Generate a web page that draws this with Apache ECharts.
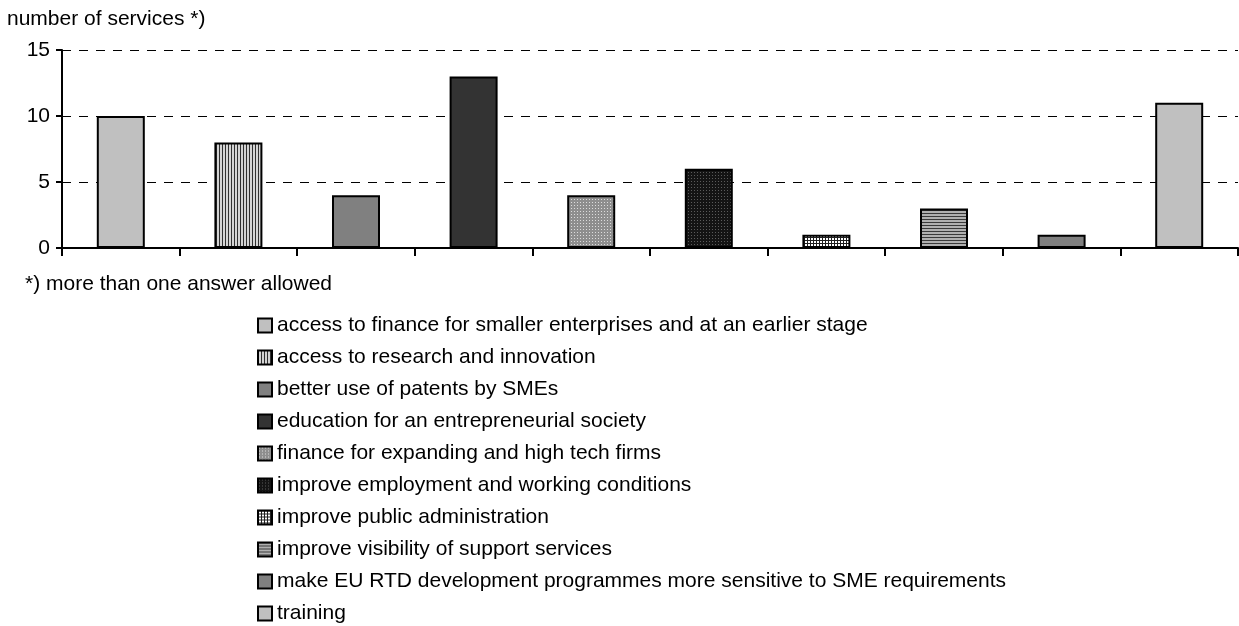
<!DOCTYPE html>
<html>
<head>
<meta charset="utf-8">
<title>number of services</title>
<script src="https://cdn.jsdelivr.net/npm/echarts@6/dist/echarts.min.js"></script>
<style>
  html, body { margin: 0; padding: 0; background: #fff; }
  #chart { width: 1239px; height: 626px; }
</style>
</head>
<body>
<div id="chart"></div>
<script>
// Service themes (one bar each) and how many services address them
const categories = [
  'access to finance for smaller enterprises and at an earlier stage',
  'access to research and innovation',
  'better use of patents by SMEs',
  'education for an entrepreneurial society',
  'finance for expanding and high tech firms',
  'improve employment and working conditions',
  'improve public administration',
  'improve visibility of support services',
  'make EU RTD development programmes more sensitive to SME requirements',
  'training'
];
const values = [10, 8, 4, 13, 4, 6, 1, 3, 1, 11];
const yTicks = [0, 5, 10, 15];

const FONT = '"Liberation Sans", Arial, Helvetica, sans-serif';

// Small repeating canvas tiles used as hatch fills
function tile(w, h, draw) {
  const c = document.createElement('canvas');
  c.width = w; c.height = h;
  const g = c.getContext('2d');
  draw(g);
  return { image: c, repeat: 'repeat' };
}

const fills = [
  '#c0c0c0',
  // vertical stripes
  tile(3, 1, g => { g.fillStyle = '#d4d4d4'; g.fillRect(0, 0, 3, 1); g.fillStyle = '#303030'; g.fillRect(0, 0, 1, 1); }),
  '#808080',
  '#333333',
  // light dots on grey
  tile(3, 3, g => { g.fillStyle = '#8e8e8e'; g.fillRect(0, 0, 3, 3); g.fillStyle = '#dcdcdc'; g.fillRect(1, 1, 1, 1); }),
  // grey dots on near-black
  tile(3, 3, g => { g.fillStyle = '#141414'; g.fillRect(0, 0, 3, 3); g.fillStyle = '#5a5a5a'; g.fillRect(1, 1, 1, 1); }),
  // fine grid
  tile(3, 3, g => { g.fillStyle = '#ffffff'; g.fillRect(0, 0, 3, 3); g.fillStyle = '#202020'; g.fillRect(0, 0, 3, 1); g.fillRect(0, 0, 1, 3); }),
  // horizontal stripes
  tile(1, 3, g => { g.fillStyle = '#b0b0b0'; g.fillRect(0, 0, 1, 3); g.fillStyle = '#3a3a3a'; g.fillRect(0, 0, 1, 1); }),
  '#808080',
  '#c0c0c0'
];

const series = categories.map((name, i) => ({
  name: name,
  type: 'bar',
  barGap: '-100%',
  barWidth: 48,
  data: values.map((v, j) => (j === i ? v : '-')),
  itemStyle: { color: fills[i], borderColor: '#000', borderWidth: 2 }
}));

const chart = echarts.init(document.getElementById('chart'));
chart.setOption({
  animation: false,
  backgroundColor: '#fff',
  textStyle: { fontFamily: FONT, color: '#000' },
  title: [
    {
      text: 'number of services *)',
      left: 7, top: 9, padding: 0,
      textStyle: { fontFamily: FONT, fontSize: 21, fontWeight: 'normal', color: '#000' }
    },
    {
      text: '*) more than one answer allowed',
      left: 25, top: 274, padding: 0,
      textStyle: { fontFamily: FONT, fontSize: 21, fontWeight: 'normal', color: '#000' }
    }
  ],
  grid: { left: 62, right: 1, top: 50, bottom: 378, containLabel: false },
  legend: {
    orient: 'vertical',
    left: 257,
    top: 315,
    height: 320,
    itemWidth: 14,
    itemHeight: 14,
    itemGap: 11,
    icon: 'rect',
    padding: 0,
    textStyle: { fontFamily: FONT, fontSize: 21, color: '#000' },
    data: categories
  },
  xAxis: {
    type: 'category',
    data: categories,
    axisLine: { lineStyle: { color: '#000', width: 2 } },
    axisTick: { show: true, interval: 0, length: 8, lineStyle: { color: '#000', width: 2 } },
    axisLabel: { show: false, interval: 0 },
    splitLine: { show: false }
  },
  yAxis: {
    type: 'value',
    min: yTicks[0],
    max: yTicks[yTicks.length - 1],
    interval: yTicks[1] - yTicks[0],
    axisLine: { show: true, lineStyle: { color: '#000', width: 2 } },
    axisTick: { show: true, length: 6, lineStyle: { color: '#000', width: 2 } },
    axisLabel: { fontFamily: FONT, fontSize: 21, color: '#000', margin: 12 },
    splitLine: { show: true, lineStyle: { color: '#000', width: 1, type: [9, 8] } }
  },
  series: series
});
</script>
</body>
</html>
